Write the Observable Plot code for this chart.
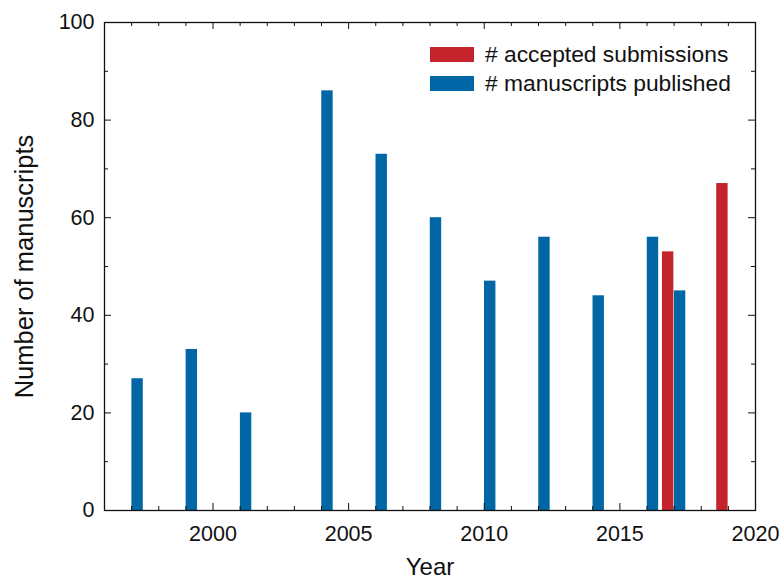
<!DOCTYPE html>
<html>
<head>
<meta charset="utf-8">
<script src="https://cdn.jsdelivr.net/npm/d3@7"></script>
<script src="https://cdn.jsdelivr.net/npm/@observablehq/plot@0.6"></script>
<style>
  html, body { margin: 0; padding: 0; background: #fff; }
  #wrap { position: relative; width: 780px; height: 581px; font-family: "Liberation Sans", Arial, Helvetica, sans-serif; }
  #legend { position: absolute; left: 430px; top: 40px; font-size: 22.8px; color: #111; }
  .row { display: flex; align-items: center; height: 29px; }
  .sw { width: 44px; height: 15.5px; margin-right: 11px; }
</style>
</head>
<body>
<div id="wrap"></div>
<script>
// ---- data ----
const publishedYears  = [1997, 1999, 2001, 2004, 2006, 2008, 2010, 2012, 2014, 2016, 2017];
const publishedCounts = [27, 33, 20, 86, 73, 60, 47, 56, 44, 56, 45];
const acceptedYears   = [2017, 2019];
const acceptedCounts  = [53, 67];
const seriesNames = ["# accepted submissions", "# manuscripts published"];
const xTickLabels = [2000, 2005, 2010, 2015, 2020];
const yTickLabels = [0, 20, 40, 60, 80, 100];
const xLabel = "Year";
const yLabel = "Number of manuscripts";

const colors = {accepted: "#c4242b", published: "#0066a5"};

const published = publishedYears.map((y, i) => ({year: y, value: publishedCounts[i]}));
const accepted = acceptedYears.map((y, i) => ({year: y, value: acceptedCounts[i]}));

const W = 780, H = 581, mL = 104, mR = 25, mT = 22, mB = 71;
const innerH = H - mT - mB, innerW = W - mL - mR;
const offset = 0.22, half = 0.21;

const minorX = d3.range(1996, 2021).filter(v => v % 5 !== 0);
const minorY = d3.range(10, 100, 20);
const majorLen = 7, minorLen = 4;

const chart = Plot.plot({
  width: W, height: H,
  marginLeft: mL, marginRight: mR, marginTop: mT, marginBottom: mB,
  style: {fontFamily: "'Liberation Sans', Arial, Helvetica, sans-serif", fontSize: "21.5px", color: "#111", background: "#fff"},
  x: {domain: [1996, 2020]},
  y: {domain: [0, 100]},
  marks: [
    Plot.rectY(published, {x1: d => d.year + offset - half, x2: d => d.year + offset + half, y1: 0, y2: "value", fill: colors.published}),
    Plot.rectY(accepted, {x1: d => d.year - offset - half, x2: d => d.year - offset + half, y1: 0, y2: "value", fill: colors.accepted}),
    // inward ticks
    Plot.ruleX(xTickLabels, {x: d => d, insetTop: innerH - majorLen, stroke: "#111"}),
    Plot.ruleX(xTickLabels, {x: d => d, insetBottom: innerH - majorLen, stroke: "#111"}),
    Plot.ruleX(minorX, {x: d => d, insetTop: innerH - minorLen, stroke: "#111"}),
    Plot.ruleX(minorX, {x: d => d, insetBottom: innerH - minorLen, stroke: "#111"}),
    Plot.ruleY(yTickLabels, {y: d => d, insetRight: innerW - majorLen, stroke: "#111"}),
    Plot.ruleY(yTickLabels, {y: d => d, insetLeft: innerW - majorLen, stroke: "#111"}),
    Plot.ruleY(minorY, {y: d => d, insetRight: innerW - minorLen, stroke: "#111"}),
    Plot.ruleY(minorY, {y: d => d, insetLeft: innerW - minorLen, stroke: "#111"}),
    Plot.frame({stroke: "#111", strokeWidth: 1.3}),
    Plot.axisX({ticks: xTickLabels, tickSize: 0, tickPadding: 15, tickFormat: d => String(d), label: null}),
    Plot.axisY({ticks: yTickLabels, tickSize: 0, tickPadding: 10, label: null}),
    Plot.text([xLabel], {text: d => d, frameAnchor: "bottom", dy: 57, lineAnchor: "middle", textAnchor: "middle", fontSize: 24}),
    Plot.text([yLabel], {text: d => d, frameAnchor: "left", dx: -80, rotate: -90, lineAnchor: "middle", textAnchor: "middle", fontSize: 25.5})
  ]
});

const wrap = document.getElementById("wrap");
wrap.appendChild(chart);

const legend = document.createElement("div");
legend.id = "legend";
[[seriesNames[0], colors.accepted], [seriesNames[1], colors.published]].forEach(([name, c]) => {
  const row = document.createElement("div");
  row.className = "row";
  const sw = document.createElement("div");
  sw.className = "sw";
  sw.style.background = c;
  const t = document.createElement("span");
  t.textContent = name;
  row.appendChild(sw);
  row.appendChild(t);
  legend.appendChild(row);
});
wrap.appendChild(legend);
</script>
</body>
</html>
